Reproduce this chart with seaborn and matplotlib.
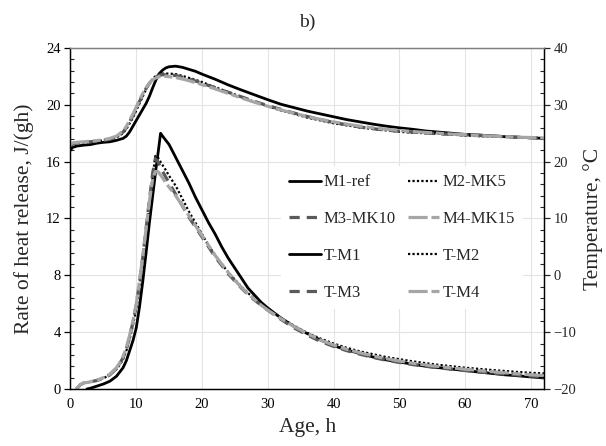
import numpy as np
import pandas as pd
import seaborn as sns
import matplotlib.pyplot as plt
from matplotlib.ticker import MultipleLocator

# heat release (left axis), J/(gh)
m1_age = [2.5, 3, 4, 5, 6, 7, 8, 8.5, 9, 9.5, 10, 10.5, 11, 11.5, 12, 12.5, 13, 13.4, 13.7, 14,
          14.5, 15, 16, 17, 18, 19, 20, 21, 22, 23, 24, 25, 26, 27, 28, 29, 30, 32, 34, 36,
          38, 40, 42, 44, 46, 48, 50, 52, 54, 56, 58, 60, 62, 64, 66, 68, 70, 72]
m1_ref = [0, 0.05, 0.2, 0.35, 0.55, 0.9, 1.5, 2.0, 2.7, 3.4, 4.3, 5.8, 7.6, 9.6, 11.7, 13.6, 15.5, 16.9, 18.0, 17.8,
          17.5, 17.2, 16.3, 15.4, 14.5, 13.5, 12.6, 11.7, 10.9, 10.0, 9.2, 8.5, 7.8, 7.1, 6.6, 6.1, 5.7, 5.0, 4.4, 3.9,
          3.45, 3.05, 2.75, 2.5, 2.25, 2.05, 1.9, 1.75, 1.6, 1.5, 1.4, 1.3, 1.2, 1.1, 1.0, 0.93, 0.85, 0.78]

mix_age = [0.9, 1.5, 2, 3, 4, 5, 6, 7, 7.5, 8, 8.5, 9, 9.5, 10, 10.5, 11, 11.5, 12, 12.5, 12.9,
           13.3, 13.8, 14.5, 15, 16, 17, 18, 19, 20, 21, 22, 23, 24, 25, 26, 27, 28, 29, 30, 32,
           34, 36, 38, 40, 42, 44, 46, 48, 50, 52, 54, 56, 58, 60, 62, 64, 66, 68, 70, 72]
m2_mk5 = [0, 0.3, 0.42, 0.5, 0.6, 0.75, 1.0, 1.4, 1.7, 2.1, 2.7, 3.5, 4.5, 5.6, 7.2, 9.0, 11.0, 13.0, 15.0, 16.4,
          16.3, 15.9, 15.4, 15.0, 14.3, 13.4, 12.5, 11.7, 10.9, 10.1, 9.4, 8.8, 8.2, 7.7, 7.2, 6.75, 6.35, 6.0, 5.65, 5.0,
          4.45, 3.95, 3.55, 3.2, 2.9, 2.65, 2.45, 2.25, 2.1, 1.95, 1.82, 1.7, 1.6, 1.5, 1.42, 1.34, 1.27, 1.2, 1.14, 1.1]
m3_mk10 = [0, 0.3, 0.42, 0.5, 0.6, 0.75, 1.0, 1.45, 1.8, 2.2, 2.8, 3.7, 4.7, 5.9, 7.5, 9.3, 11.3, 13.3, 15.2, 16.2,
           16.0, 15.5, 14.9, 14.5, 13.7, 12.9, 12.1, 11.4, 10.7, 10.0, 9.3, 8.7, 8.1, 7.6, 7.1, 6.65, 6.25, 5.9, 5.55, 4.9,
           4.3, 3.8, 3.35, 3.0, 2.7, 2.45, 2.22, 2.03, 1.87, 1.72, 1.6, 1.49, 1.39, 1.3, 1.21, 1.13, 1.05, 0.98, 0.91, 0.86]
m4_mk15 = [0, 0.3, 0.42, 0.5, 0.62, 0.8, 1.05, 1.5, 1.85, 2.3, 2.9, 3.8, 4.8, 6.0, 7.6, 9.4, 11.3, 13.2, 14.8, 15.3,
           15.3, 15.0, 14.5, 14.2, 13.6, 12.9, 12.2, 11.5, 10.8, 10.1, 9.4, 8.8, 8.2, 7.65, 7.15, 6.7, 6.3, 5.9, 5.55, 4.95,
           4.4, 3.9, 3.45, 3.1, 2.8, 2.55, 2.33, 2.14, 1.97, 1.82, 1.69, 1.58, 1.48, 1.39, 1.3, 1.22, 1.14, 1.07, 1.0, 0.95]

# temperature (right axis), deg C
t_age = [0, 0.3, 1, 2, 3, 4, 5, 6, 7, 8, 8.5, 9, 9.5, 10, 10.5, 11, 11.5, 12, 12.5, 13,
         13.5, 14, 14.5, 15, 16, 17, 18, 19, 20, 22, 24, 26, 28, 30, 32, 34, 36, 38, 40, 42,
         44, 46, 48, 50, 52, 54, 56, 58, 60, 62, 64, 66, 68, 70, 72]
t_m1 = [22.0, 22.5, 22.75, 22.9, 23.0, 23.25, 23.4, 23.5, 23.75, 24.1, 24.5, 25.25, 26.25, 27.25, 28.25, 29.25, 30.25, 31.5, 33.0, 34.4,
        35.5, 36.1, 36.5, 36.7, 36.8, 36.6, 36.25, 35.9, 35.4, 34.5, 33.5, 32.6, 31.75, 30.9, 30.1, 29.5, 28.9, 28.4, 27.9, 27.4,
        27.0, 26.6, 26.25, 25.95, 25.7, 25.4, 25.2, 25.0, 24.8, 24.7, 24.55, 24.4, 24.3, 24.2, 24.1]
t_m2 = [22.5, 23.0, 23.25, 23.4, 23.5, 23.6, 23.75, 23.9, 24.25, 25.0, 25.75, 26.75, 27.75, 29.0, 30.25, 31.5, 32.75, 33.75, 34.6, 35.1,
        35.4, 35.5, 35.5, 35.5, 35.4, 35.1, 34.75, 34.4, 34.0, 33.1, 32.25, 31.4, 30.5, 29.75, 29.0, 28.4, 27.75, 27.25, 26.75, 26.4,
        26.0, 25.75, 25.5, 25.25, 25.1, 25.0, 24.9, 24.75, 24.6, 24.5, 24.4, 24.35, 24.3, 24.2, 24.1]
t_m3 = [22.75, 23.1, 23.3, 23.4, 23.5, 23.6, 23.75, 23.95, 24.35, 25.2, 26.0, 27.0, 28.1, 29.3, 30.6, 31.8, 32.9, 33.8, 34.5, 34.95,
        35.2, 35.3, 35.3, 35.3, 35.15, 34.9, 34.55, 34.2, 33.8, 33.0, 32.2, 31.4, 30.6, 29.85, 29.2, 28.55, 27.95, 27.4, 26.9, 26.5,
        26.1, 25.8, 25.55, 25.35, 25.2, 25.05, 24.9, 24.8, 24.7, 24.6, 24.5, 24.4, 24.3, 24.2, 24.15]
t_m4 = [23.0, 23.3, 23.4, 23.5, 23.6, 23.7, 23.85, 24.1, 24.5, 25.4, 26.2, 27.3, 28.4, 29.6, 30.9, 32.0, 33.0, 33.8, 34.4, 34.75,
        34.95, 35.0, 35.0, 34.95, 34.8, 34.55, 34.25, 33.9, 33.55, 32.8, 32.0, 31.2, 30.45, 29.75, 29.1, 28.5, 27.95, 27.45, 27.0, 26.6,
        26.25, 25.95, 25.7, 25.5, 25.3, 25.15, 25.0, 24.85, 24.75, 24.6, 24.5, 24.4, 24.3, 24.25, 24.15]

sns.set_style("white")
plt.rcParams['font.family'] = ['Liberation Serif', 'DejaVu Serif']

BLACK, DARK, LIGHT = 'black', '#5a5a5a', '#a6a6a6'
SOLID, DOT, DASH, DASHDOT = '-', (0, (1, 1)), (0, (3.2, 2.2)), (0, (6, 1.2, 2.5, 1.2))

fig = plt.figure(figsize=(6.06, 4.46), dpi=100)
ax = fig.add_axes([0.1163, 0.1278, 0.7814, 0.7646])
ax2 = ax.twinx()

heat = [(m1_age, m1_ref, 'M1-ref', BLACK, SOLID, 2.0),
        (mix_age, m2_mk5, 'M2-MK5', BLACK, DOT, 1.6),
        (mix_age, m3_mk10, 'M3-MK10', DARK, DASH, 2.3),
        (mix_age, m4_mk15, 'M4-MK15', LIGHT, DASHDOT, 2.3)]
temp = [(t_age, t_m1, 'T-M1', BLACK, SOLID, 2.0),
        (t_age, t_m2, 'T-M2', BLACK, DOT, 1.6),
        (t_age, t_m3, 'T-M3', DARK, DASH, 2.3),
        (t_age, t_m4, 'T-M4', LIGHT, DASHDOT, 2.3)]

for x, y, lab, c, ls, lw in heat:
    sns.lineplot(x=x, y=y, ax=ax, color=c, linestyle=ls, linewidth=lw, label=lab)
for x, y, lab, c, ls, lw in temp:
    sns.lineplot(x=x, y=y, ax=ax2, color=c, linestyle=ls, linewidth=lw, label=lab)

ax.set_xlim(0, 72)
ax.set_ylim(0, 24)
ax2.set_ylim(-20, 40)
ax.xaxis.set_major_locator(MultipleLocator(10))
ax.xaxis.set_minor_locator(MultipleLocator(1))
ax.yaxis.set_major_locator(MultipleLocator(4))
ax.yaxis.set_minor_locator(MultipleLocator(0.8))
ax2.yaxis.set_major_locator(MultipleLocator(10))
ax2.yaxis.set_minor_locator(MultipleLocator(2))

ax.grid(True, which='major', color='#e3e3e3', linewidth=0.8)
ax.set_axisbelow(True)
for a in (ax, ax2):
    for s in a.spines.values():
        s.set_color('black')
        s.set_linewidth(0.9)
    a.spines['top'].set_color('#808080')
ax.tick_params(axis='both', which='major', direction='out', length=4, width=0.9,
               labelsize=10.5, colors='black', pad=3)
ax.tick_params(axis='x', which='major', direction='inout', length=7)
ax.tick_params(axis='both', which='minor', direction='in', length=3, width=0.8)
ax2.tick_params(axis='y', which='major', direction='out', length=4, width=0.9, labelsize=10.5, pad=3)
ax2.tick_params(axis='y', which='minor', direction='in', length=3, width=0.8)

ax.set_xlabel('Age, h', fontsize=15.5)
ax.set_ylabel('Rate of heat release, J/(gh)', fontsize=15.5)
ax2.set_ylabel('Temperature, °C', fontsize=15.5)
ax.xaxis.set_label_coords(0.5, -0.085)
ax.yaxis.set_label_coords(-0.076, 0.5)
ax2.yaxis.set_label_coords(1.082, 0.5)
ax.set_title('b)', fontsize=14, pad=15)

h1, l1 = ax.get_legend_handles_labels()
h2, l2 = ax2.get_legend_handles_labels()
ax.get_legend().remove()
hs, ls_ = h1 + h2, l1 + l2
order = [0, 2, 4, 6, 1, 3, 5, 7]
leg = ax2.legend([hs[i] for i in order], [ls_[i] for i in order], ncol=2,
                 loc='center', bbox_to_anchor=(0.7, 0.444), fontsize=12,
                 frameon=True, facecolor='white', edgecolor='none', framealpha=1,
                 fancybox=False, handlelength=1.9, handletextpad=0.2,
                 columnspacing=0.7, labelspacing=1.25, borderpad=0.5)
leg.set_zorder(5)

fig.savefig('out.png', dpi=100)
